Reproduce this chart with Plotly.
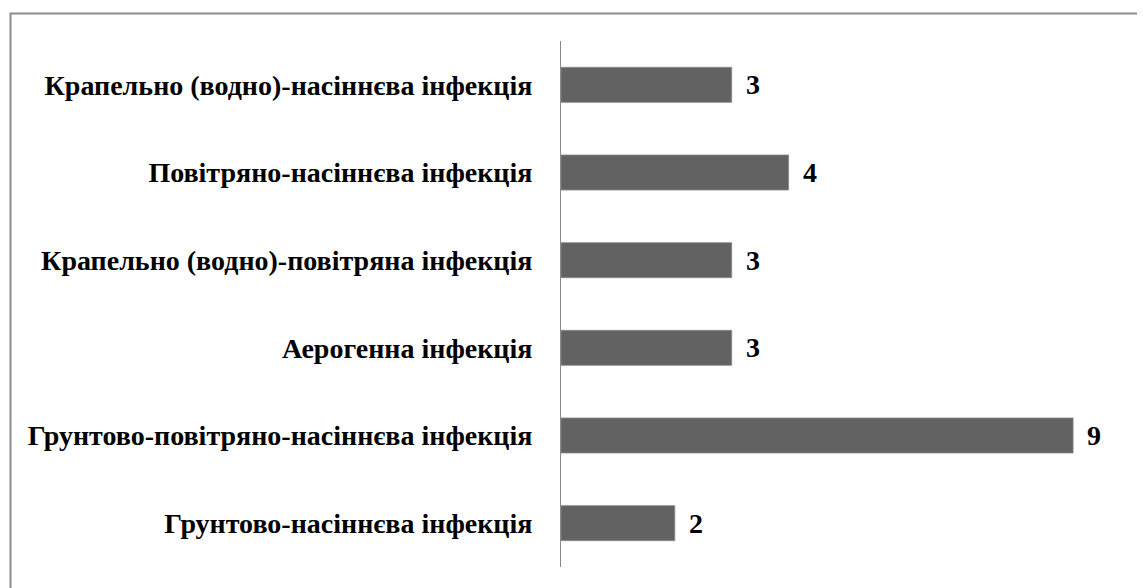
import plotly.graph_objects as go

categories = [
    "Крапельно (водно)-насіннєва інфекція",
    "Повітряно-насіннєва інфекція",
    "Крапельно (водно)-повітряна інфекція",
    "Аерогенна інфекція",
    "Грунтово-повітряно-насіннєва інфекція",
    "Грунтово-насіннєва інфекція",
]
values = [3, 4, 3, 3, 9, 2]

W, H = 1145, 588
OFF = 8  # page body offset
L, R, T, B = 561 - OFF, 15 + OFF, 41 - OFF, 21 + OFF
pw = W - L - R
ph = H - T - B

fig = go.Figure()
fig.add_trace(go.Bar(
    x=values, y=categories, orientation="h",
    marker=dict(color="#626262", line=dict(color="#8a8a8a", width=0.8)),
    width=0.4,
    hoverinfo="skip",
))

for v, c in zip(values, categories):
    fig.add_annotation(x=v, y=c, xref="x", yref="y", text=f"<b>{v}</b>",
                       showarrow=False, xanchor="left", xshift=12,
                       font=dict(family="Liberation Serif", size=28, color="black"))

fig.add_shape(type="rect", xref="paper", yref="paper",
              x0=(10.5 - OFF - L) / pw, x1=1.2,
              y0=-0.3, y1=(H - B - (13.5 - OFF)) / ph,
              line=dict(color="#8c8c8c", width=2), fillcolor="rgba(0,0,0,0)")

fig.update_layout(
    width=W, height=H,
    margin=dict(l=L, r=R, t=T, b=B),
    paper_bgcolor="white", plot_bgcolor="white",
    showlegend=False,
    font=dict(family="Liberation Serif", size=28, color="black"),
)
fig.update_xaxes(range=[0, 10], visible=False, showgrid=False, zeroline=False)
fig.update_yaxes(autorange="reversed", showline=True, linecolor="#8a8a8a", linewidth=1,
                 showgrid=False, ticks="", ticklabelstandoff=22,
                 tickfont=dict(family="Liberation Serif", size=28, color="black", weight="bold"))

fig.write_html("out.html")
